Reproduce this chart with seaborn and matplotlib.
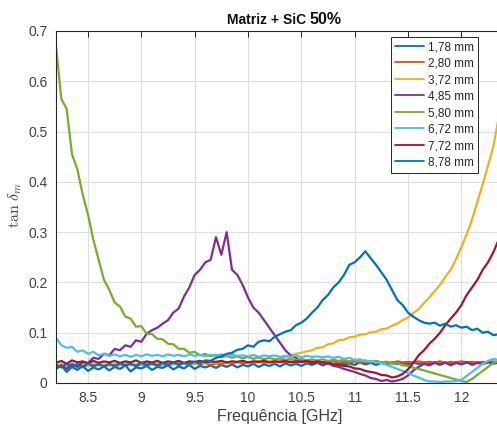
import matplotlib
matplotlib.use("Agg")
import matplotlib.pyplot as plt
import numpy as np
import pandas as pd
import seaborn as sns


# --- data (tan delta_m vs frequency) ---

freq_ghz = [
    8.20, 8.25, 8.30, 8.35, 8.40, 8.45, 8.50, 8.55, 8.60, 8.65,
    8.70, 8.75, 8.80, 8.85, 8.90, 8.95, 9.00, 9.05, 9.10, 9.15,
    9.20, 9.25, 9.30, 9.35, 9.40, 9.45, 9.50, 9.55, 9.60, 9.65,
    9.70, 9.75, 9.80, 9.85, 9.90, 9.95, 10.00, 10.05, 10.10, 10.15,
    10.20, 10.25, 10.30, 10.35, 10.40, 10.45, 10.50, 10.55, 10.60, 10.65,
    10.70, 10.75, 10.80, 10.85, 10.90, 10.95, 11.00, 11.05, 11.10, 11.15,
    11.20, 11.25, 11.30, 11.35, 11.40, 11.45, 11.50, 11.55, 11.60, 11.65,
    11.70, 11.75, 11.80, 11.85, 11.90, 11.95, 12.00, 12.05, 12.10, 12.15,
    12.20, 12.25, 12.30, 12.35, 12.40,
]

sample_labels = ["1,78 mm", "2,80 mm", "3,72 mm", "4,85 mm",
                 "5,80 mm", "6,72 mm", "7,72 mm", "8,78 mm"]

tan_178 = [
    0.028, 0.035, 0.022, 0.032, 0.026, 0.034, 0.024, 0.031, 0.027, 0.033,
    0.025, 0.032, 0.028, 0.035, 0.023, 0.031, 0.029, 0.034, 0.026, 0.032,
    0.030, 0.035, 0.027, 0.033, 0.029, 0.036, 0.028, 0.034, 0.031, 0.035,
    0.030, 0.036, 0.032, 0.037, 0.031, 0.036, 0.033, 0.038, 0.032, 0.037,
    0.034, 0.038, 0.033, 0.039, 0.035, 0.038, 0.034, 0.039, 0.036, 0.040,
    0.035, 0.039, 0.036, 0.040, 0.037, 0.039, 0.036, 0.041, 0.037, 0.040,
    0.036, 0.040, 0.037, 0.041, 0.038, 0.040, 0.037, 0.041, 0.038, 0.040,
    0.037, 0.041, 0.038, 0.040, 0.037, 0.041, 0.038, 0.040, 0.039, 0.041,
    0.038, 0.041, 0.039, 0.040, 0.041,
]

tan_280 = [
    0.036, 0.032, 0.038, 0.034, 0.037, 0.031, 0.036, 0.033, 0.038, 0.034,
    0.037, 0.033, 0.036, 0.035, 0.038, 0.033, 0.037, 0.035, 0.038, 0.034,
    0.037, 0.035, 0.039, 0.036, 0.038, 0.035, 0.039, 0.037, 0.040, 0.036,
    0.039, 0.037, 0.041, 0.038, 0.042, 0.039, 0.041, 0.040, 0.043, 0.040,
    0.042, 0.040, 0.043, 0.041, 0.043, 0.040, 0.042, 0.041, 0.043, 0.041,
    0.042, 0.040, 0.043, 0.041, 0.042, 0.040, 0.043, 0.041, 0.042, 0.041,
    0.043, 0.041, 0.042, 0.040, 0.043, 0.041, 0.042, 0.041, 0.043, 0.041,
    0.042, 0.041, 0.043, 0.040, 0.042, 0.041, 0.043, 0.041, 0.042, 0.041,
    0.042, 0.041, 0.043, 0.041, 0.042,
]

tan_372 = [
    0.034, 0.038, 0.033, 0.037, 0.035, 0.039, 0.034, 0.038, 0.035, 0.037,
    0.034, 0.038, 0.036, 0.039, 0.035, 0.038, 0.036, 0.040, 0.036, 0.039,
    0.037, 0.040, 0.036, 0.041, 0.038, 0.040, 0.037, 0.041, 0.039, 0.042,
    0.040, 0.043, 0.039, 0.042, 0.041, 0.044, 0.040, 0.043, 0.042, 0.044,
    0.043, 0.046, 0.048, 0.052, 0.054, 0.058, 0.060, 0.063, 0.065, 0.070,
    0.071, 0.077, 0.079, 0.085, 0.086, 0.091, 0.092, 0.096, 0.097, 0.101,
    0.102, 0.107, 0.108, 0.114, 0.118, 0.125, 0.130, 0.139, 0.147, 0.159,
    0.170, 0.183, 0.195, 0.211, 0.225, 0.246, 0.270, 0.296, 0.325, 0.360,
    0.395, 0.432, 0.470, 0.528, 0.580,
]

tan_485 = [
    0.030, 0.035, 0.028, 0.038, 0.032, 0.042, 0.040, 0.050, 0.048, 0.058,
    0.055, 0.068, 0.065, 0.075, 0.072, 0.085, 0.082, 0.098, 0.105, 0.110,
    0.118, 0.125, 0.140, 0.148, 0.172, 0.190, 0.215, 0.225, 0.240, 0.245,
    0.290, 0.255, 0.300, 0.225, 0.215, 0.195, 0.170, 0.150, 0.140, 0.125,
    0.110, 0.095, 0.080, 0.065, 0.055, 0.050, 0.042, 0.045, 0.038, 0.042,
    0.036, 0.040, 0.034, 0.032, 0.028, 0.025, 0.022, 0.018, 0.015, 0.010,
    0.008, 0.004, 0.006, 0.003, 0.005, 0.008, 0.015, 0.025, 0.032, 0.038,
    0.035, 0.040, 0.036, 0.041, 0.035, 0.040, 0.037, 0.042, 0.036, 0.040,
    0.038, 0.042, 0.039, 0.041, 0.040,
]

tan_580 = [
    0.670, 0.565, 0.545, 0.455, 0.425, 0.375, 0.335, 0.285, 0.245, 0.205,
    0.185, 0.160, 0.152, 0.132, 0.128, 0.112, 0.113, 0.098, 0.097, 0.088,
    0.087, 0.078, 0.077, 0.068, 0.068, 0.060, 0.062, 0.055, 0.058, 0.053,
    0.056, 0.051, 0.054, 0.050, 0.053, 0.049, 0.052, 0.048, 0.051, 0.047,
    0.050, 0.047, 0.049, 0.046, 0.048, 0.045, 0.048, 0.045, 0.047, 0.045,
    0.047, 0.044, 0.046, 0.044, 0.046, 0.043, 0.045, 0.043, 0.045, 0.042,
    0.044, 0.041, 0.042, 0.038, 0.040, 0.035, 0.034, 0.030, 0.028, 0.025,
    0.022, 0.019, 0.016, 0.013, 0.010, 0.007, 0.004, 0.002, 0.008, 0.016,
    0.024, 0.032, 0.040, 0.044, 0.046,
]

tan_672 = [
    0.090, 0.075, 0.070, 0.072, 0.062, 0.065, 0.058, 0.062, 0.055, 0.058,
    0.054, 0.057, 0.053, 0.056, 0.052, 0.056, 0.053, 0.057, 0.054, 0.056,
    0.053, 0.057, 0.054, 0.056, 0.053, 0.057, 0.054, 0.056, 0.053, 0.056,
    0.054, 0.057, 0.053, 0.056, 0.054, 0.055, 0.053, 0.056, 0.052, 0.055,
    0.053, 0.055, 0.052, 0.054, 0.052, 0.055, 0.051, 0.054, 0.052, 0.053,
    0.051, 0.053, 0.050, 0.052, 0.048, 0.050, 0.046, 0.047, 0.043, 0.044,
    0.041, 0.040, 0.036, 0.032, 0.028, 0.024, 0.020, 0.015, 0.011, 0.006,
    0.003, 0.003, 0.002, 0.003, 0.003, 0.004, 0.006, 0.014, 0.022, 0.030,
    0.038, 0.044, 0.048, 0.046, 0.047,
]

tan_772 = [
    0.040, 0.044, 0.038, 0.045, 0.041, 0.043, 0.039, 0.044, 0.040, 0.043,
    0.041, 0.044, 0.040, 0.043, 0.041, 0.045, 0.040, 0.043, 0.041, 0.044,
    0.040, 0.043, 0.041, 0.044, 0.040, 0.043, 0.042, 0.044, 0.041, 0.043,
    0.042, 0.044, 0.041, 0.043, 0.042, 0.044, 0.041, 0.043, 0.042, 0.044,
    0.041, 0.043, 0.042, 0.044, 0.041, 0.043, 0.042, 0.044, 0.041, 0.043,
    0.041, 0.040, 0.037, 0.036, 0.034, 0.033, 0.029, 0.028, 0.024, 0.022,
    0.020, 0.016, 0.015, 0.011, 0.013, 0.018, 0.027, 0.040, 0.055, 0.065,
    0.078, 0.088, 0.100, 0.115, 0.128, 0.140, 0.155, 0.175, 0.190, 0.205,
    0.225, 0.240, 0.260, 0.285, 0.300,
]

tan_878 = [
    0.036, 0.031, 0.038, 0.033, 0.037, 0.032, 0.039, 0.034, 0.037, 0.033,
    0.038, 0.034, 0.039, 0.035, 0.038, 0.034, 0.040, 0.036, 0.039, 0.035,
    0.040, 0.036, 0.041, 0.037, 0.040, 0.038, 0.042, 0.039, 0.045, 0.044,
    0.050, 0.053, 0.058, 0.060, 0.066, 0.068, 0.075, 0.072, 0.082, 0.085,
    0.083, 0.092, 0.097, 0.102, 0.105, 0.115, 0.120, 0.128, 0.140, 0.150,
    0.165, 0.175, 0.190, 0.200, 0.215, 0.235, 0.240, 0.250, 0.262, 0.248,
    0.235, 0.220, 0.205, 0.185, 0.165, 0.155, 0.140, 0.132, 0.125, 0.120,
    0.118, 0.120, 0.114, 0.118, 0.112, 0.115, 0.110, 0.112, 0.105, 0.108,
    0.100, 0.102, 0.095, 0.097, 0.092,
]

# MATLAB default line colours (the 8th wraps back to the first)
line_colors = ["#0072BD", "#D95319", "#EDB120", "#7E2F8E",
               "#77AC30", "#4DBEEE", "#A2142F", "#0072BD"]

series = [tan_178, tan_280, tan_372, tan_485, tan_580, tan_672, tan_772, tan_878]
frames = []
for label, values in zip(sample_labels, series):
    assert len(values) == len(freq_ghz), label
    frames.append(pd.DataFrame({"freq": freq_ghz, "tan_d": values, "sample": label}))
df = pd.concat(frames, ignore_index=True)


# --- figure ---

sns.set_style("white")
plt.rcParams["font.family"] = ["Liberation Sans", "DejaVu Sans"]
plt.rcParams["mathtext.fontset"] = "cm"

W, H = 497, 428
fig = plt.figure(figsize=(W / 100, H / 100), dpi=100)
# axes runs a little past the right edge, as in the cropped original
ax = fig.add_axes([56 / W, 45 / H, 448 / W, 352 / H])

sns.lineplot(data=df, x="freq", y="tan_d", hue="sample", hue_order=sample_labels,
             palette=line_colors, estimator=None, sort=False, linewidth=1.6, ax=ax)

ax.set_xlim(8.2, 12.4)
ax.set_ylim(0, 0.7)
ax.set_xticks([8.5, 9, 9.5, 10, 10.5, 11, 11.5, 12])
ax.set_xticklabels(["8.5", "9", "9.5", "10", "10.5", "11", "11.5", "12"])
ax.set_yticks([0, 0.1, 0.2, 0.3, 0.4, 0.5, 0.6, 0.7])
ax.set_yticklabels(["0", "0.1", "0.2", "0.3", "0.4", "0.5", "0.6", "0.7"])

ax.grid(True, color="#dedede", linewidth=0.8)
ax.set_axisbelow(True)
for side in ["left", "bottom", "top", "right"]:
    ax.spines[side].set_visible(True)
    ax.spines[side].set_color("#262626")
    ax.spines[side].set_linewidth(0.8)
ax.tick_params(direction="in", length=4, width=0.7, top=True, right=True,
               labelsize=10, labelcolor="#404040", color="#262626", pad=6)

ax.set_xlabel("Frequência [GHz]", fontsize=11.5, color="#404040", labelpad=3)
ax.set_ylabel("")
fig.text(15 / W, 1 - 205 / H, r"$\tan\,\delta_m$", rotation=90, fontsize=11.5,
         color="#404040", ha="center", va="center")

fig.text(306 / W, 1 - 24 / H, "Matriz + SiC", fontsize=10, fontweight="bold",
         ha="right", va="baseline", color="#111111")
fig.text(310 / W, 1 - 24 / H, "50%", fontsize=11.5, fontweight="bold",
         ha="left", va="baseline", color="#111111")

handles, labels = ax.get_legend_handles_labels()
leg = ax.legend(handles, labels, loc="upper right",
                bbox_to_anchor=(478 / W, 1 - 37 / H), bbox_transform=fig.transFigure,
                fontsize=8.5, frameon=True, fancybox=False, framealpha=1,
                edgecolor="#262626", handlelength=2.4, handletextpad=0.35,
                labelspacing=0.38, borderpad=0.35, borderaxespad=0)
leg.get_frame().set_linewidth(0.7)
for line in leg.get_lines():
    line.set_linewidth(1.3)

plt.savefig("out.png", dpi=100)
plt.close()
